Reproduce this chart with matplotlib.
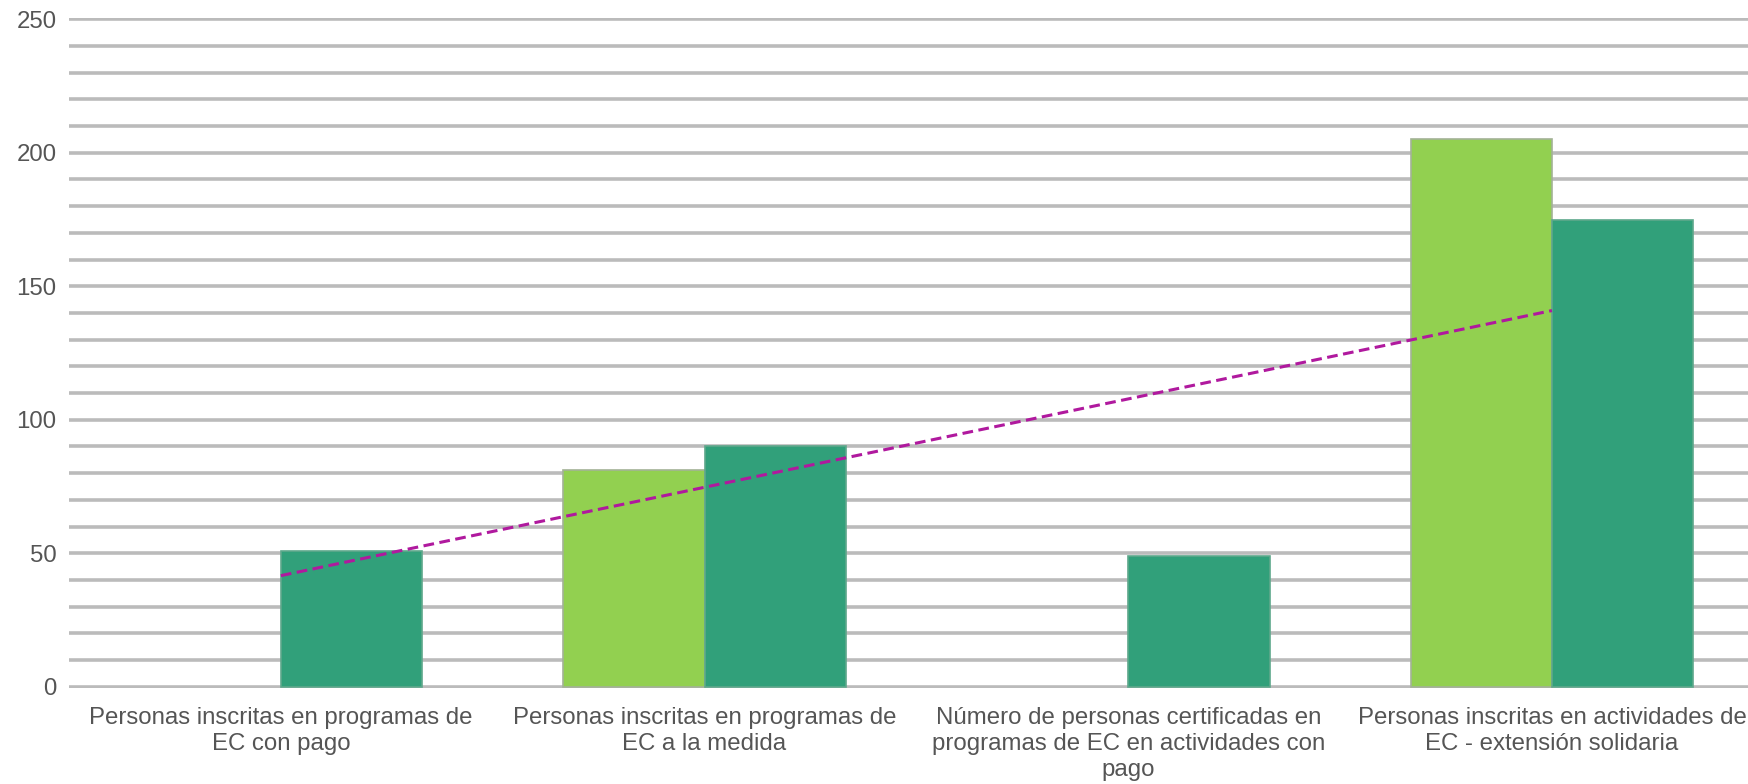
import numpy as np
import matplotlib
matplotlib.use("Agg")
import matplotlib.pyplot as plt
from matplotlib.ticker import MultipleLocator

categories = [
    "Personas inscritas en programas de\nEC con pago",
    "Personas inscritas en programas de\nEC a la medida",
    "Número de personas certificadas en\nprogramas de EC en actividades con\npago",
    "Personas inscritas en actividades de\nEC - extensión solidaria",
]
serie_clara = [np.nan, 81, np.nan, 205]
serie_oscura = [51, 90, 49, 175]
y_ticks = [0, 50, 100, 150, 200, 250]

plt.rcParams['font.family'] = ['Liberation Sans', 'DejaVu Sans']

W, H = 1749, 784
fig = plt.figure(figsize=(W / 100, H / 100), dpi=100)
ax = fig.add_axes([69 / W, (H - 688) / H, 1 - 69 / W, (688 - 18) / H])

x = np.arange(len(categories))
w = 1 / 3
light = "#92D050"
dark = "#31A07A"

ax.bar(x - w / 2, serie_clara, width=w, color=light, edgecolor="#A3B296",
       linewidth=1.2, zorder=2)
ax.bar(x + w / 2, serie_oscura, width=w, color=dark, edgecolor="#5EA88B",
       linewidth=1.2, zorder=2)

# linear trendline of the dark series
coef = np.polyfit(x, serie_oscura, 1)
xt = np.array([x[0], x[-1]])
ax.plot(xt, np.polyval(coef, xt), color="#B0199E", linewidth=2.2,
        dashes=(3.5, 1.8), zorder=3)

ax.set_xlim(-0.5, 3.465)
ax.set_ylim(-0.5, 250.5)
ax.set_yticks(y_ticks)
ax.yaxis.set_minor_locator(MultipleLocator(10))
ax.grid(True, axis="y", which="both", color="#BBBBBB", linewidth=2.6)
ax.set_axisbelow(True)

for s in ax.spines.values():
    s.set_visible(False)

ax.set_xticks(x)
ax.set_xticklabels(categories, fontsize=17.3, color="#555555", linespacing=1.25)
ax.tick_params(axis="x", length=0, pad=13.5)
ax.tick_params(axis="y", which="both", length=0, pad=9, labelsize=17.3,
               labelcolor="#555555")

fig.savefig("out.png", dpi=100)
